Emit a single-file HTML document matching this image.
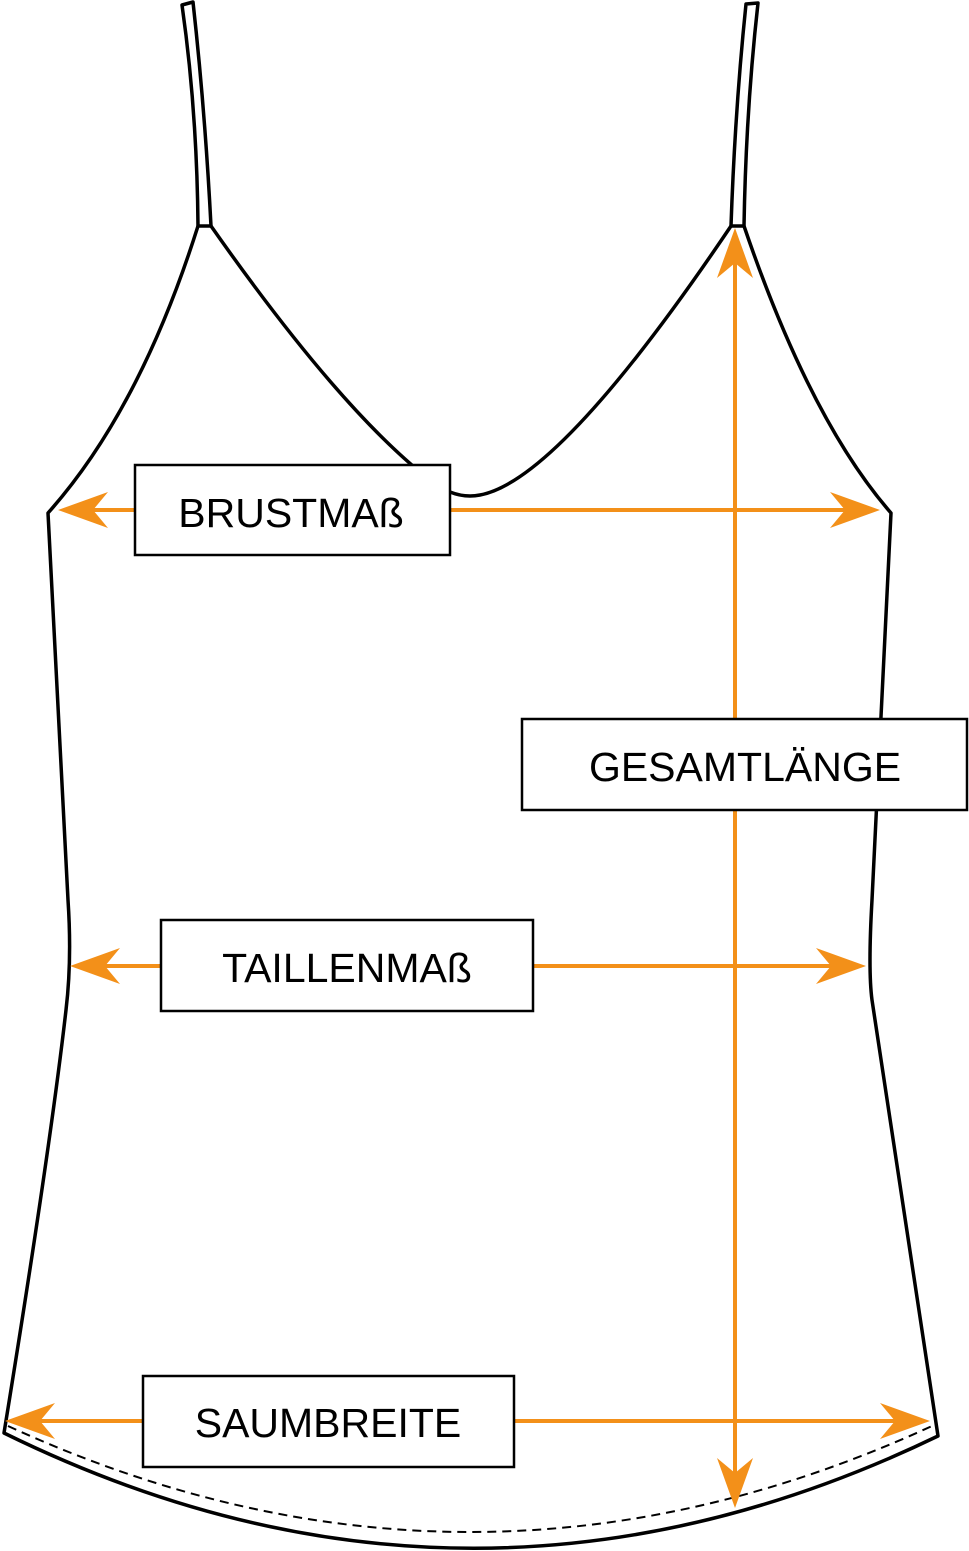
<!DOCTYPE html>
<html><head><style>html,body{margin:0;padding:0;background:#fff}svg{display:block}</style></head>
<body>
<svg width="969" height="1551" viewBox="0 0 969 1551" xmlns="http://www.w3.org/2000/svg">
<g fill="none" stroke="#000" stroke-width="3.5" stroke-linejoin="round">
<path d="M182,5 L193,2 Q205,110 211,226 L198,226 Q197,110 182,5 Z"/>
<path d="M746,4 L758,3 Q746,110 744,226 L731,226 Q735,110 746,4 Z"/>
<path d="M198,226 Q140,410 48,513 L68,900 Q72,960 66,1010 Q50,1150 4,1433 Q470,1662 938,1436 Q885,1080 872,1000 Q868,970 872,900 L891,513 Q810,420 744,226"/>
<path d="M211,226 Q340,410 430,480 Q455,500 480,495 Q560,480 731,226"/>
<path d="M8,1426 Q470,1638 932,1426" stroke-width="2" stroke-dasharray="9,6"/>
</g>
<g stroke="#F39019" stroke-width="4">
<line x1="80" y1="510" x2="860" y2="510"/>
<line x1="90" y1="966" x2="846" y2="966"/>
<line x1="25" y1="1421" x2="910" y2="1421"/>
<line x1="735" y1="250" x2="735" y2="1490"/>
</g>
<g fill="#F39019">
<polygon points="58,510 108,492 93,510 108,528"/>
<polygon points="880,510 830,492 845,510 830,528"/>
<polygon points="70,966 120,948 105,966 120,984"/>
<polygon points="866,966 816,948 831,966 816,984"/>
<polygon points="5,1421 55,1403 40,1421 55,1439"/>
<polygon points="930,1421 880,1403 895,1421 880,1439"/>
<polygon points="735,228 717,278 735,263 753,278"/>
<polygon points="735,1508 717,1458 735,1473 753,1458"/>
</g>
<g fill="#fff" stroke="#000" stroke-width="2.5">
<rect x="135" y="465" width="315" height="90"/>
<rect x="161" y="920" width="372" height="91"/>
<rect x="143" y="1376" width="371" height="91"/>
<rect x="522" y="719" width="445" height="91"/>
</g>
<g font-family="Liberation Sans, sans-serif" font-size="41" fill="#000" text-anchor="middle">
<text x="291" y="527">BRUSTMAß</text>
<text x="347" y="982">TAILLENMAß</text>
<text x="328" y="1437">SAUMBREITE</text>
<text x="745" y="781">GESAMTLÄNGE</text>
</g>
</svg>
</body></html>
